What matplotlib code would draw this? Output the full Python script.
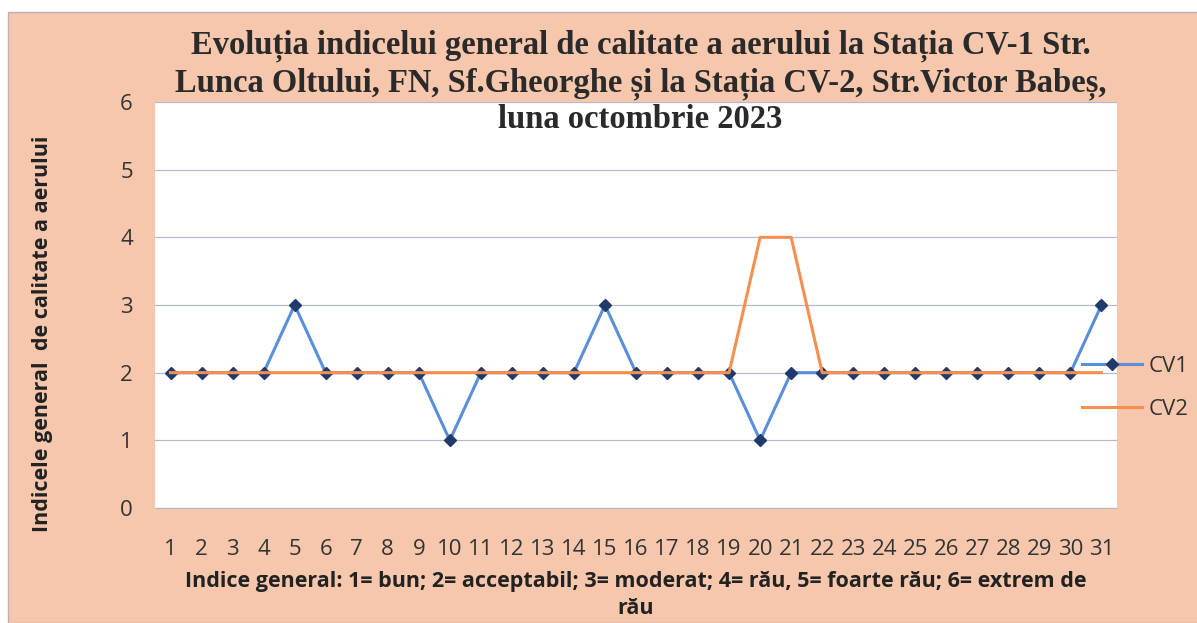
import numpy as np
import matplotlib.pyplot as plt
from matplotlib.patches import Rectangle
from matplotlib.lines import Line2D

# data
days = list(range(1, 32))
cv1 = [2, 2, 2, 2, 3, 2, 2, 2, 2, 1, 2, 2, 2, 2, 3, 2,
       2, 2, 2, 1, 2, 2, 2, 2, 2, 2, 2, 2, 2, 2, 3]
cv2 = [2, 2, 2, 2, 2, 2, 2, 2, 2, 2, 2, 2, 2, 2, 2, 2,
       2, 2, 2, 4, 4, 2, 2, 2, 2, 2, 2, 2, 2, 2, 2]
series_names = ['CV1', 'CV2']

title = ("Evoluția indicelui general de calitate a aerului la Stația CV-1 Str.\n"
         "Lunca Oltului, FN, Sf.Gheorghe și la Stația CV-2, Str.Victor Babeș,\n"
         "luna octombrie 2023")
ylab = "Indicele general  de calitate a aerului"
xlab = ("Indice general: 1= bun; 2= acceptabil; 3= moderat; 4= rău, 5= foarte rău; 6= extrem de\n"
        "rău")

peach = '#F6C7AC'
sans = ['Open Sans', 'DejaVu Sans']

fig = plt.figure(figsize=(11.97, 6.23), dpi=100)
fig.patch.set_facecolor('white')
# scanned chart background
fig.patches.append(Rectangle((8 / 1197, 0), 1, 1 - 12 / 623, transform=fig.transFigure,
                             facecolor=peach, edgecolor='#B8B0B8', linewidth=1, zorder=-5))

ax = fig.add_axes([155 / 1197, 115 / 623, 962 / 1197, 406 / 623])
ax.set_facecolor('white')

ax.plot(days, cv1, color='#5A8ED8', linewidth=2.2, marker='D', markersize=6.5,
        markerfacecolor='#1F3A6B', markeredgecolor='#1F3A6B', zorder=3)
ax.plot(days, cv2, color='#F58F4F', linewidth=2.2, zorder=4)

ax.set_xlim(0.5, 31.5)
ax.set_ylim(0, 6)
ax.set_xticks(days)
ax.set_yticks(range(0, 7))
ax.grid(axis='y', color='#B4B8CC', linewidth=0.9)
ax.set_axisbelow(True)
for s in ['top', 'right', 'left']:
    ax.spines[s].set_visible(False)
ax.spines['bottom'].set_color('#B4B8CC')
ax.tick_params(length=0)
ax.tick_params(axis='x', pad=22)
ax.tick_params(axis='y', pad=16)
for lbl in ax.get_xticklabels() + ax.get_yticklabels():
    lbl.set_fontfamily(sans)
    lbl.set_fontsize(16)
    lbl.set_color('#333333')

ax.set_ylabel(ylab, fontsize=15.5, fontweight='bold', family=sans, color='#222222')
ax.yaxis.set_label_coords(-0.106, 0.43)
ax.set_xlabel(xlab, fontsize=15.5, fontweight='bold', family=sans, color='#222222',
              labelpad=8, linespacing=1.4)

fig.text(0.535, 0.952, title, ha='center', va='top', fontsize=23.5, fontweight='bold',
         family=['Liberation Serif', 'DejaVu Serif'], color='#2A2A2A', linespacing=1.2)

handles = [Line2D([], [], color='#5A8ED8', linewidth=2.2, marker='D', markersize=6.5,
                  markerfacecolor='#1F3A6B', markeredgecolor='#1F3A6B'),
           Line2D([], [], color='#F58F4F', linewidth=2.2)]
leg = fig.legend(handles, series_names, loc='center left', bbox_to_anchor=(1062 / 1197, 235 / 623),
                 frameon=False, prop={'family': sans, 'size': 16}, handlelength=2.7,
                 labelspacing=1.0, handletextpad=0.3)
for t in leg.get_texts():
    t.set_color('#333333')

fig.savefig('out.png', dpi=100)
